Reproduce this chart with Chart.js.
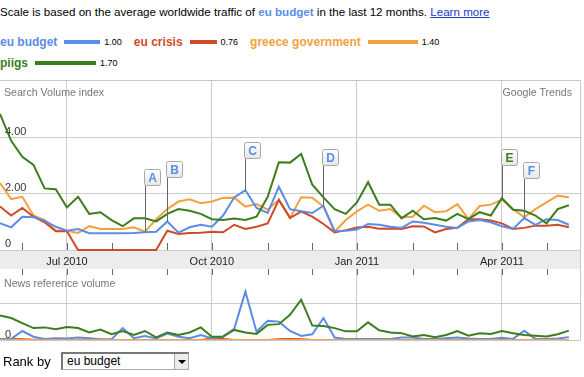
<!DOCTYPE html>
<html>
<head>
<meta charset="utf-8">
<script src="https://cdn.jsdelivr.net/npm/chart.js@4.4.1/dist/chart.umd.min.js"></script>
<style>
body{margin:0;width:584px;height:377px;position:relative;overflow:hidden;font-family:Arial,"Liberation Sans",Helvetica,sans-serif;background:#fff;color:#000;}
#scale{position:absolute;left:0;top:5px;font-size:11.6px;line-height:14px;white-space:nowrap}
#scale b{color:#5a8de6}
#scale a{color:#1c38c8;text-decoration:underline}
#legend{position:absolute;left:0;top:33px;width:465px;display:flex;flex-wrap:wrap;row-gap:4px}
.item{display:flex;align-items:center;height:17px;margin-right:12px}
.item .name{font-weight:bold;font-size:12px}
.item .bar{height:4px;margin-left:7px}
.item .val{font-size:9px;margin-left:4px}
#main{position:absolute;left:0;top:80px}
#news{position:absolute;left:0;top:269px}
.lab{position:absolute;font-size:10.6px;line-height:12px;color:#777;white-space:nowrap}
#rank{position:absolute;left:3px;top:354px;font-size:13px;line-height:16px}
#sel{position:absolute;left:61px;top:352px;width:128px;height:18px;box-sizing:border-box;border-top:2px solid #777;border-left:2px solid #777;border-right:1px solid #aaa;border-bottom:1px solid #aaa;font-size:12px;line-height:15px;padding-left:4px;background:#fff}
#arrow{position:absolute;right:0;top:0;width:13px;height:15px;background:#ececec;border-left:1px solid #aaa}
#arrow:after{content:"";position:absolute;left:3px;top:6px;border-left:4px solid transparent;border-right:4px solid transparent;border-top:4px solid #000}
</style>
</head>
<body>
<div id="scale">Scale is based on the average worldwide traffic of <b>eu budget</b> in the last 12 months. <a>Learn more</a></div>
<div id="legend"></div>
<canvas id="main" width="584" height="190"></canvas>
<canvas id="news" width="584" height="72"></canvas>
<div class="lab" style="left:4px;top:86px">Search Volume index</div>
<div class="lab" style="right:12px;top:86px">Google Trends</div>
<div class="lab" style="left:4px;top:277px">News reference volume</div>
<div id="rank">Rank by</div>
<div id="sel">eu budget<span id="arrow"></span></div>
<script>
// series
const seriesNames = ['eu budget', 'eu crisis', 'greece government', 'piigs'];
const seriesColors = ['#5a8de6', '#cf4a2b', '#f5a03e', '#3d7c1f'];
const scaleValues = [1.00, 0.76, 1.40, 1.70];

// search volume index, one value per week (May 2010 - May 2011)
const euBudget = [0.96, 0.81, 1.19, 1.17, 1.05, 0.83, 0.69, 0.75, 0.60, 0.60,
    0.60, 0.60, 0.61, 0.63, 0.65, 1.02, 0.62, 0.81, 0.90, 0.83,
    1.23, 1.88, 2.14, 1.50, 1.32, 2.26, 1.46, 1.38, 1.32, 1.58,
    0.67, 0.69, 0.73, 0.93, 0.90, 0.83, 0.79, 1.02, 0.97, 0.90,
    0.83, 0.79, 1.02, 1.07, 0.99, 0.85, 0.75, 1.14, 0.90, 1.10,
    1.07, 0.90];
const euCrisis = [1.55, 1.23, 1.50, 1.19, 0.99, 0.67, 0.67, 0, 0, 0,
    0, 0, 0, 0, 0, 0.69, 0.57, 0.61, 0.62, 0.65,
    0.63, 0.90, 0.75, 0.83, 0.95, 1.79, 1.15, 1.37, 1.19, 0.93,
    0.63, 0.71, 0.80, 0.83, 0.76, 0.77, 0.75, 0.85, 0.84, 0.63,
    0.75, 0.79, 1.10, 1.10, 1.05, 0.95, 0.75, 0.79, 0.87, 0.87,
    0.90, 0.81];
const greeceGov = [2.39, 1.82, 1.90, 1.23, 1.07, 0.69, 0.69, 0.61, 0.85, 0.75,
    0.75, 0.75, 0.81, 0.65, 1.10, 1.46, 1.73, 1.81, 1.67, 1.73,
    1.86, 1.87, 1.55, 1.64, 1.44, 1.79, 1.14, 1.88, 1.87, 1.55,
    0.65, 1.07, 1.38, 1.62, 1.40, 1.46, 1.17, 1.19, 1.58, 1.35,
    1.38, 1.64, 1.10, 1.57, 1.62, 1.80, 1.46, 1.17, 1.46, 1.70,
    1.94, 1.88];
const piigs = [4.86, 3.90, 3.33, 3.04, 2.20, 2.17, 1.52, 1.90, 1.29, 1.35,
    1.07, 0.85, 1.13, 1.13, 1.02, 1.29, 1.46, 1.40, 1.29, 1.10,
    1.07, 1.12, 1.07, 1.19, 1.90, 3.13, 3.12, 3.43, 2.33, 1.88,
    1.46, 1.29, 1.70, 2.42, 1.62, 1.62, 1.13, 1.40, 1.10, 1.14,
    1.05, 1.29, 1.10, 1.35, 1.23, 1.85, 1.44, 1.40, 1.23, 0.95,
    1.46, 1.60];

// news reference volume
const newsEuBudget = [0.03, 0.03, 0.25, 0.09, 0.03, 0.05, 0.04, 0.07, 0.05, 0.02,
    0.02, 0.33, 0.05, 0.11, 0.04, 0.18, 0.09, 0.05, 0.14, 0.05,
    0.09, 0.31, 1.34, 0.23, 0.53, 0.51, 0.25, 0.11, 0.16, 0.61,
    0.07, 0.03, 0.03, 0.03, 0.03, 0.03, 0.07, 0.07, 0.03, 0.03,
    0.05, 0.07, 0.04, 0.03, 0.03, 0.06, 0.03, 0.26, 0.03, 0.03,
    0.04, 0.08];
const newsEuCrisis = [0.02, 0.03, 0.02, 0.01, 0, 0, 0, 0, 0, 0,
    0, 0, 0, 0, 0, 0, 0, 0, 0, 0.04,
    0.03, 0, 0, 0, 0, 0.02, 0.03, 0.02, 0, 0,
    0, 0, 0, 0, 0, 0, 0, 0, 0, 0,
    0, 0, 0, 0, 0, 0, 0, 0, 0, 0,
    0, 0];
const newsGreeceGov = [0, 0, 0, 0, 0, 0, 0, 0, 0, 0,
    0, 0, 0, 0, 0, 0, 0, 0, 0, 0,
    0, 0, 0, 0, 0, 0, 0, 0, 0, 0,
    0, 0, 0, 0, 0, 0, 0, 0, 0, 0,
    0, 0, 0, 0, 0, 0, 0, 0, 0, 0,
    0, 0];
const newsPiigs = [0.68, 0.61, 0.47, 0.33, 0.35, 0.30, 0.36, 0.33, 0.21, 0.29,
    0.16, 0.25, 0.14, 0.25, 0.07, 0.21, 0.14, 0.21, 0.35, 0.09,
    0.10, 0.28, 0.21, 0.17, 0.42, 0.44, 0.70, 1.12, 0.40, 0.39,
    0.33, 0.24, 0.24, 0.49, 0.27, 0.21, 0.19, 0.10, 0.14, 0.08,
    0.14, 0.25, 0.12, 0.19, 0.17, 0.25, 0.19, 0.14, 0.12, 0.10,
    0.16, 0.26];

// x axis: month tick marks (week index) and quarter labels
const monthTicks = [2, 6, 10, 15, 19, 24, 28, 32, 37, 41, 45, 49];
const quarterTicks = [6, 19, 32, 45];
const quarterLabels = ['Jul 2010', 'Oct 2010', 'Jan 2011', 'Apr 2011'];
const searchTicks = [0, 2, 4];
const searchTickLabels = ['0', '2.00', '4.00'];
const newsTicks = [0, 1];
const newsTickLabels = ['0', ''];

// news flags
const flagLetters = ['A', 'B', 'C', 'D', 'E', 'F'];
const flagWeeks = [13, 15, 22, 29, 45, 47];
const flagSeries = [0, 0, 0, 0, 3, 0];
const flagLevels = [2.33, 2.62, 3.30, 3.05, 3.05, 2.58];

// legend
const legend = document.getElementById('legend');
seriesNames.forEach((name, i) => {
    const item = document.createElement('div');
    item.className = 'item';
    item.innerHTML = '<span class="name" style="color:' + seriesColors[i] + '">' + name + '</span>' +
        '<span class="bar" style="background:' + seriesColors[i] + ';width:' + Math.round(scaleValues[i] * 36) + 'px"></span>' +
        '<span class="val">' + scaleValues[i].toFixed(2) + '</span>';
    legend.appendChild(item);
});

const searchSeries = [euBudget, euCrisis, greeceGov, piigs];
const newsSeries = [newsEuBudget, newsEuCrisis, newsGreeceGov, newsPiigs];
const FONT = 'Arial, "Liberation Sans", sans-serif';

function makeDatasets(list, order) {
    return list.map((arr, i) => ({
        label: seriesNames[i],
        data: arr.map((v, k) => ({ x: k, y: v })),
        borderColor: seriesColors[i],
        borderWidth: 2,
        pointRadius: 0,
        tension: 0,
        fill: false,
        clip: false,
        order: order[i]
    }));
}

function tickMarks(chart, y0, y1) {
    const ctx = chart.ctx;
    const xs = chart.scales.x;
    ctx.save();
    ctx.strokeStyle = '#666';
    ctx.lineWidth = 1;
    monthTicks.forEach(t => {
        const x = Math.round(xs.getPixelForValue(t)) + 0.5;
        ctx.beginPath();
        ctx.moveTo(x, y0);
        ctx.lineTo(x, y1);
        ctx.stroke();
    });
    ctx.restore();
}

// y labels sit just above their grid line, inside the plot
function yLabels(chart, ticks, labels, offset) {
    const ctx = chart.ctx;
    const ys = chart.scales.y;
    ctx.save();
    ctx.font = '11px ' + FONT;
    ctx.fillStyle = '#333';
    ctx.textAlign = 'left';
    ctx.textBaseline = 'middle';
    ticks.forEach((v, i) => ctx.fillText(labels[i], 5, ys.getPixelForValue(v) + offset));
    ctx.restore();
}

const frameMain = {
    id: 'frameMain',
    beforeDraw(chart) {
        const { ctx, chartArea: a } = chart;
        ctx.save();
        ctx.fillStyle = '#ececec';
        ctx.fillRect(0, a.bottom, a.right + 1, 19);
        ctx.restore();
    },
    beforeDatasetsDraw(chart) {
        yLabels(chart, searchTicks, searchTickLabels, -6);
    },
    afterDraw(chart) {
        const { ctx, chartArea: a } = chart;
        const xs = chart.scales.x, ys = chart.scales.y;
        tickMarks(chart, a.bottom - 7, a.bottom);
        ctx.save();
        ctx.strokeStyle = '#c8c8c8';
        ctx.lineWidth = 1;
        ctx.beginPath();
        ctx.moveTo(0, a.top + 0.5);
        ctx.lineTo(a.right + 0.5, a.top + 0.5);
        ctx.lineTo(a.right + 0.5, chart.height);
        ctx.stroke();
        // flags
        flagLetters.forEach((letter, i) => {
            const x = Math.round(xs.getPixelForValue(flagWeeks[i])) + 0.5;
            const yPt = ys.getPixelForValue(searchSeries[flagSeries[i]][flagWeeks[i]]);
            const yb = Math.round(ys.getPixelForValue(flagLevels[i])) + 0.5;
            ctx.strokeStyle = '#666';
            ctx.beginPath();
            ctx.moveTo(x, yb);
            ctx.lineTo(x, yPt);
            ctx.stroke();
            const bx = x - 1, by = yb - 16;
            const g = ctx.createLinearGradient(0, by, 0, yb);
            g.addColorStop(0, '#ffffff');
            g.addColorStop(1, '#e6e6e6');
            ctx.fillStyle = g;
            ctx.strokeStyle = '#a8a8a8';
            ctx.beginPath();
            ctx.roundRect(bx, by, 16, 16, 2);
            ctx.fill();
            ctx.stroke();
            ctx.fillStyle = seriesColors[flagSeries[i]];
            ctx.font = 'bold 12px ' + FONT;
            ctx.textAlign = 'center';
            ctx.textBaseline = 'middle';
            ctx.fillText(letter, bx + 8, by + 9);
        });
        ctx.restore();
    }
};

const frameNews = {
    id: 'frameNews',
    beforeDatasetsDraw(chart) {
        yLabels(chart, newsTicks, newsTickLabels, -5);
    },
    afterDraw(chart) {
        const { ctx, chartArea: a } = chart;
        tickMarks(chart, a.top, a.top + 6);
        ctx.save();
        ctx.strokeStyle = '#c8c8c8';
        ctx.lineWidth = 1;
        ctx.beginPath();
        ctx.moveTo(a.right + 0.5, 0);
        ctx.lineTo(a.right + 0.5, a.bottom + 0.5);
        ctx.lineTo(0, a.bottom + 0.5);
        ctx.stroke();
        ctx.restore();
    }
};

function xAxis(showLabels) {
    return {
        type: 'linear',
        min: 0,
        max: 52,
        afterBuildTicks: s => { s.ticks = monthTicks.map(v => ({ value: v })); },
        afterFit: s => { s.height = showLabels ? 20 : 0; },
        grid: {
            drawTicks: false,
            color: c => (c.tick && quarterTicks.includes(c.tick.value)) ? '#cccccc' : 'rgba(0,0,0,0)'
        },
        border: { display: false },
        ticks: {
            display: showLabels,
            autoSkip: false,
            maxRotation: 0,
            padding: 5,
            color: '#222',
            font: { size: 11, family: FONT },
            callback: v => {
                const k = quarterTicks.indexOf(v);
                return k >= 0 ? quarterLabels[k] : '';
            }
        }
    };
}

function yAxis(max, ticks) {
    return {
        min: 0,
        max: max,
        afterBuildTicks: s => { s.ticks = ticks.map(v => ({ value: v })); },
        afterFit: s => { s.width = 0; },
        grid: { drawTicks: false, color: '#cccccc' },
        border: { display: false },
        ticks: { display: false }
    };
}

Chart.defaults.font.family = FONT;

new Chart(document.getElementById('main'), {
    type: 'line',
    data: { datasets: makeDatasets(searchSeries, [1, 2, 3, 0]) },
    options: {
        responsive: false,
        animation: false,
        devicePixelRatio: 1,
        layout: { padding: { left: 0, right: 4, top: 0, bottom: 0 } },
        scales: { x: xAxis(true), y: yAxis(6.07, searchTicks) },
        plugins: { legend: { display: false }, tooltip: { enabled: false } }
    },
    plugins: [frameMain]
});

new Chart(document.getElementById('news'), {
    type: 'line',
    data: { datasets: makeDatasets(newsSeries, [2, 3, 0, 1]) },
    options: {
        responsive: false,
        animation: false,
        devicePixelRatio: 1,
        layout: { padding: { left: 0, right: 4, top: 0, bottom: 1 } },
        scales: { x: xAxis(false), y: yAxis(1.97, newsTicks) },
        plugins: { legend: { display: false }, tooltip: { enabled: false } }
    },
    plugins: [frameNews]
});
</script>
</body>
</html>
